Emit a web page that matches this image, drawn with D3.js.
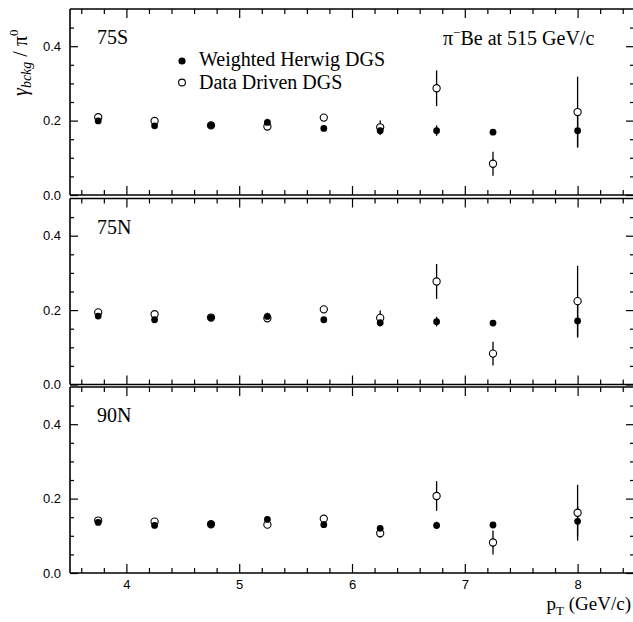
<!DOCTYPE html>
<html>
<head>
<meta charset="utf-8">
<script src="https://cdn.jsdelivr.net/npm/d3@7"></script>
<style>
  body { margin: 0; background: #fff; }
  svg { display: block; }
  .tick text { font-family: "Liberation Sans", Arial, sans-serif; font-size: 13px; fill: #000; }
  .tick line { stroke: #000; stroke-width: 1.2; }
  .serif { font-family: "Liberation Serif", "Times New Roman", serif; fill: #000; }
</style>
</head>
<body>
<svg id="chart" width="633" height="622"></svg>
<script>
// pT bin centres (GeV/c)
var ptBins = [3.75, 4.25, 4.75, 5.25, 5.75, 6.25, 6.75, 7.25, 8];

var panelNames = ["75S", "75N", "90N"];

// Weighted Herwig DGS (filled)
var herwig75S = [0.199, 0.186, 0.187, 0.195, 0.179, 0.173, 0.173, 0.169, 0.173];
var herwigErr75S = [0, 0, 0, 0.010, 0, 0.012, 0.014, 0, 0.045];
var herwig75N = [0.184, 0.174, 0.180, 0.183, 0.174, 0.166, 0.169, 0.165, 0.171];
var herwigErr75N = [0, 0, 0, 0.010, 0, 0.010, 0.013, 0, 0.045];
var herwig90N = [0.136, 0.128, 0.131, 0.144, 0.130, 0.120, 0.128, 0.129, 0.139];
var herwigErr90N = [0, 0, 0, 0.008, 0, 0.006, 0.010, 0, 0.040];

// Data Driven DGS (open)
var driven75S = [0.209, 0.199, 0.187, 0.184, 0.208, 0.182, 0.287, 0.084, 0.223];
var drivenErr75S = [0.004, 0.004, 0, 0.006, 0.008, 0.018, 0.048, 0.032, 0.095];
var driven75N = [0.194, 0.189, 0.180, 0.178, 0.202, 0.179, 0.277, 0.083, 0.224];
var drivenErr75N = [0.005, 0.004, 0, 0.006, 0.010, 0.020, 0.047, 0.032, 0.095];
var driven90N = [0.141, 0.138, 0.131, 0.130, 0.146, 0.107, 0.207, 0.082, 0.162];
var drivenErr90N = [0.004, 0.004, 0, 0.006, 0.006, 0.012, 0.040, 0.032, 0.075];

var yMajor = [0, 0.2, 0.4];
var xMajor = [4, 5, 6, 7, 8];

var panels = [
  { name: panelNames[0], filled: herwig75S, filledErr: herwigErr75S, open: driven75S, openErr: drivenErr75S },
  { name: panelNames[1], filled: herwig75N, filledErr: herwigErr75N, open: driven75N, openErr: drivenErr75N },
  { name: panelNames[2], filled: herwig90N, filledErr: herwigErr90N, open: driven90N, openErr: drivenErr90N }
];

var svg = d3.select("#chart");

var left = 70, right = 634;
var panelTops = [9, 198.5, 387];
var panelH = 186;

var x = d3.scaleLinear().domain([3.5, 8.5]).range([left, right]);
var xMinor = d3.range(3.6, 8.5, 0.2).map(function(d) { return +d.toFixed(1); })
  .filter(function(d) { return xMajor.indexOf(d) < 0; });
var yMinor = [0.05, 0.1, 0.15, 0.25, 0.3, 0.35, 0.45];

panels.forEach(function(p, i) {
  var top = panelTops[i];
  var y = d3.scaleLinear().domain([0, 0.5]).range([top + panelH, top]);
  var g = svg.append("g");

  // left axis (labels + inward ticks)
  g.append("g")
    .attr("transform", "translate(" + left + ",0)")
    .call(d3.axisLeft(y).tickValues(yMajor).tickSize(-8).tickPadding(9).tickFormat(d3.format(".1f")))
    .call(function(a) { a.select(".domain").remove(); });
  g.append("g")
    .attr("transform", "translate(" + left + ",0)")
    .call(d3.axisLeft(y).tickValues(yMinor).tickSize(-4).tickFormat(""))
    .call(function(a) { a.select(".domain").remove(); });

  // right axis ticks
  g.append("g")
    .attr("transform", "translate(" + right + ",0)")
    .call(d3.axisRight(y).tickValues(yMajor).tickSize(-8).tickFormat(""))
    .call(function(a) { a.select(".domain").remove(); });
  g.append("g")
    .attr("transform", "translate(" + right + ",0)")
    .call(d3.axisRight(y).tickValues(yMinor).tickSize(-4).tickFormat(""))
    .call(function(a) { a.select(".domain").remove(); });

  // top & bottom ticks
  [["top", top, d3.axisTop], ["bottom", top + panelH, d3.axisBottom]].forEach(function(s) {
    g.append("g")
      .attr("transform", "translate(0," + s[1] + ")")
      .call(s[2](x).tickValues(xMajor).tickSize(-9)
        .tickPadding(7)
        .tickFormat(i == 2 && s[0] == "bottom" ? d3.format("d") : ""))
      .call(function(a) { a.select(".domain").remove(); });
    g.append("g")
      .attr("transform", "translate(0," + s[1] + ")")
      .call(s[2](x).tickValues(xMinor).tickSize(-5).tickFormat(""))
      .call(function(a) { a.select(".domain").remove(); });
  });

  // frame: top, bottom, left (right edge lies outside the picture)
  var frame = [[left, top, right, top], [left, top + panelH, right, top + panelH], [left, top, left, top + panelH]];
  g.selectAll(".frame").data(frame).enter().append("line")
    .attr("x1", function(d) { return d[0]; }).attr("y1", function(d) { return d[1]; })
    .attr("x2", function(d) { return d[2]; }).attr("y2", function(d) { return d[3]; })
    .attr("stroke", "#000").attr("stroke-width", 1.6);

  // panel name
  g.append("text").attr("class", "serif")
    .attr("x", 97).attr("y", top + 35)
    .style("font-size", "20px")
    .text(p.name);

  // error bars
  var bars = [];
  ptBins.forEach(function(pt, j) {
    if (p.openErr[j] > 0) bars.push([pt, p.open[j], p.openErr[j]]);
    if (p.filledErr[j] > 0) bars.push([pt, p.filled[j], p.filledErr[j]]);
  });
  g.selectAll(".err").data(bars).enter().append("line")
    .attr("x1", function(d) { return x(d[0]); })
    .attr("x2", function(d) { return x(d[0]); })
    .attr("y1", function(d) { return y(d[1] - d[2]); })
    .attr("y2", function(d) { return y(d[1] + d[2]); })
    .attr("stroke", "#000").attr("stroke-width", 1.3);

  // open circles
  g.selectAll(".open").data(p.open).enter().append("circle")
    .attr("cx", function(d, j) { return x(ptBins[j]); })
    .attr("cy", function(d) { return y(d); })
    .attr("r", 3.6)
    .attr("fill", "#fff").attr("stroke", "#000").attr("stroke-width", 1.1);

  // filled circles
  g.selectAll(".filled").data(p.filled).enter().append("circle")
    .attr("cx", function(d, j) { return x(ptBins[j]); })
    .attr("cy", function(d) { return y(d); })
    .attr("r", 3.4)
    .attr("fill", "#000");
});

// legend
var legend = svg.append("g");
legend.append("circle").attr("cx", 182).attr("cy", 61).attr("r", 3.6).attr("fill", "#000");
legend.append("circle").attr("cx", 182).attr("cy", 82.5).attr("r", 3.4)
  .attr("fill", "#fff").attr("stroke", "#000").attr("stroke-width", 1.1);
legend.append("text").attr("class", "serif").attr("x", 199).attr("y", 66)
  .style("font-size", "20px").text("Weighted Herwig DGS");
legend.append("text").attr("class", "serif").attr("x", 199).attr("y", 89)
  .style("font-size", "20px").text("Data Driven DGS");

// beam label
var beam = svg.append("text").attr("class", "serif")
  .attr("x", 443).attr("y", 45).style("font-size", "20px");
beam.append("tspan").text("π");
beam.append("tspan").attr("dy", -8).style("font-size", "13px").text("−");
beam.append("tspan").attr("dy", 8).text("Be at 515 GeV/c");

// x title
var xt = svg.append("text").attr("class", "serif")
  .attr("x", 631).attr("y", 610).attr("text-anchor", "end").style("font-size", "19px");
xt.append("tspan").text("p");
xt.append("tspan").attr("dy", 5).style("font-size", "13px").text("T");
xt.append("tspan").attr("dy", -5).text(" (GeV/c)");

// y title
var yt = svg.append("text").attr("class", "serif")
  .attr("transform", "translate(27,96) rotate(-90)").style("font-size", "20px");
yt.append("tspan").style("font-style", "italic").text("γ");
yt.append("tspan").attr("dy", 4).style("font-style", "italic").style("font-size", "14px").text("bckg");
yt.append("tspan").attr("dy", -4).text(" / π");
yt.append("tspan").attr("dy", -9).style("font-size", "13px").text("0");
</script>
</body>
</html>
